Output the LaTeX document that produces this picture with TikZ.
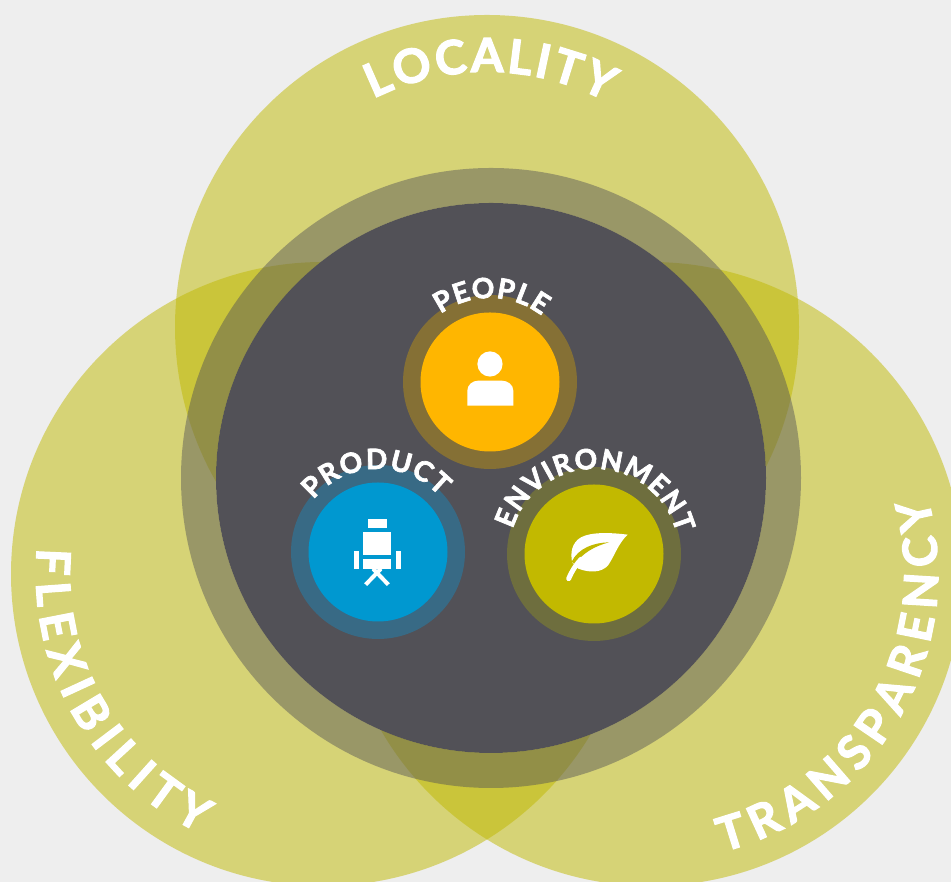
\documentclass[tikz,border=0pt]{standalone}
\usepackage{fontspec}
\setmainfont{Lato}[BoldFeatures={FakeBold=2.5}]
\usetikzlibrary{decorations.text,calc}
\definecolor{bgc}{HTML}{EEEEEE}
\definecolor{olivec}{HTML}{C0B900}
\definecolor{darkc}{HTML}{525157}
\definecolor{peoplec}{HTML}{FFB600}
\definecolor{peopler}{HTML}{857035}
\definecolor{prodc}{HTML}{0098D0}
\definecolor{prodr}{HTML}{386A85}
\definecolor{envc}{HTML}{C2B900}
\definecolor{envr}{HTML}{6E6E3E}
\tikzset{
  big/.style={fill=olivec,fill opacity=0.5},
  arctext/.style args={#1/#2}{decorate,decoration={text along path,text align=fit to path,
     text={|\fontsize{#1}{#1}\selectfont\bfseries\color{white}|#2}}},
  zoomed/.style={x=0.3333pt,y=-0.3333pt},
  icon/.style={fill=white,draw=none}
}
\begin{document}
\begin{tikzpicture}[x=1pt,y=1pt]
\useasboundingbox (0,0) rectangle (951,882);
\fill[bgc] (0,0) rectangle (951,882);
\clip (0,0) rectangle (951,882);
% three big circles
\fill[big] (487,555) circle[radius=312pt];
\fill[big] (323,308) circle[radius=312pt];
\fill[big] (651,308) circle[radius=312pt];
% central disc with translucent ring
\fill[darkc,fill opacity=0.46,even odd rule] (491,404) circle[radius=310pt] (491,404) circle[radius=275pt];
\fill[darkc] (491,404) circle[radius=275pt];
% three small discs
\fill[peopler] (490,500) circle[radius=87pt];
\fill[peoplec] (490,500) circle[radius=69.5pt];
\fill[prodr] (378,330) circle[radius=87pt];
\fill[prodc] (378,330) circle[radius=69.5pt];
\fill[envr] (594,328) circle[radius=87pt];
\fill[envc] (594,328) circle[radius=69.5pt];
% outer labels
\path[arctext=47/LOCALITY] ($(487,555)+(116.5:255pt)$) arc[start angle=116.5,end angle=62,radius=255pt];
\path[arctext=47/FLEXIBILITY] ($(323,308)+(174.8:287pt)$) arc[start angle=174.8,end angle=244.5,radius=287pt];
\path[arctext=47/TRANSPARENCY] ($(651,308)+(-75.5:287pt)$) arc[start angle=-75.5,end angle=15.5,radius=287pt];
% inner labels
\path[arctext=28/PEOPLE] ($(490,500)+(126:84pt)$) arc[start angle=126,end angle=52,radius=84pt];
\path[arctext=28/PRODUCT] ($(378,330)+(141:83pt)$) arc[start angle=141,end angle=42,radius=83pt];
\path[arctext=28/ENVIRONMENT] ($(594,328)+(163:85pt)$) arc[start angle=163,end angle=14,radius=85pt];
% person icon
\begin{scope}[zoomed,shift={(280pt,622pt)}]
  \fill[icon] (630,312) circle[radius=12.6pt];
  \fill[icon] (562,437) -- (562,392) to[out=90,in=180] (595,362) -- (665,362) to[out=0,in=90] (700,392) -- (700,437) -- cycle;
\end{scope}
% chair icon
\begin{scope}[zoomed,shift={(345pt,372pt)}]
  \fill[icon] (70,27) rectangle (125,53);
  \fill[icon] (55,66) rectangle (137,136);
  \fill[icon] (55,148) rectangle (137,178);
  \fill[icon] (27,122) rectangle (42,178);
  \fill[icon] (152,122) rectangle (167,178);
  \draw[white,line width=4pt] (84,176) -- (130,224);
  \draw[white,line width=4pt] (108,176) -- (62,224);
\end{scope}
% leaf icon
\begin{scope}[zoomed,shift={(555pt,362pt)}]
  \fill[icon] (218,44) .. controls (170,38) and (110,35) .. (78,52)
     .. controls (50,68) and (45,100) .. (52,128)
     -- (70,146) .. controls (100,158) and (140,160) .. (160,135)
     .. controls (180,105) and (190,70) .. (218,44) -- cycle;
  \fill[envc] (162,67) .. controls (115,68) and (70,85) .. (50,125)
     -- (60,134) .. controls (80,100) and (120,78) .. (162,67) -- cycle;
  \draw[white,line width=5pt,line cap=round] (41,176) .. controls (50,155) and (60,138) .. (78,118);
\end{scope}
\end{tikzpicture}
\end{document}
